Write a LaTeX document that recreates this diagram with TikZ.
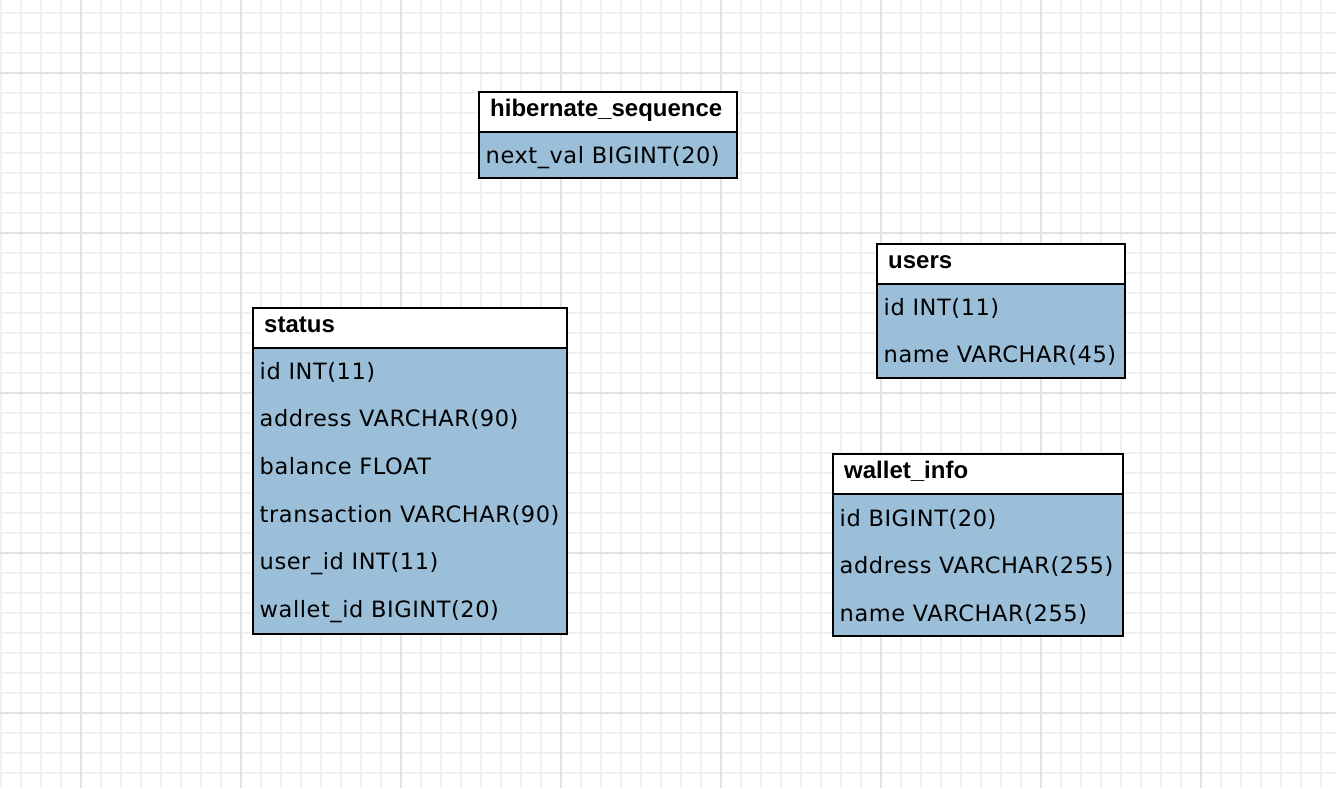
\documentclass[tikz,border=0pt]{standalone}
\usepackage{fontspec}
\newfontfamily\hfont{Liberation Sans}
\newfontfamily\rfont[LetterSpace=2.5]{DejaVu Sans}
\definecolor{gridminor}{RGB}{241,241,241}
\definecolor{gridmajor}{RGB}{226,226,226}
\definecolor{rowfill}{RGB}{155,191,217}
\tikzset{
  minorline/.style={draw=gridminor, line width=1.3pt},
  majorline/.style={draw=gridmajor, line width=1.3pt},
  hdrbox/.style={draw=black, line width=2pt, fill=white, anchor=north west, inner sep=0pt},
  bodybox/.style={draw=black, line width=2pt, fill=rowfill, anchor=north west, inner sep=0pt},
  htext/.style={anchor=base west, inner sep=0pt, font=\hfont\bfseries\fontsize{24}{28}\selectfont},
  rtext/.style={anchor=base west, inner sep=0pt, font=\rfont\fontsize{22.5}{26}\selectfont},
}
\begin{document}
\begin{tikzpicture}[x=1pt,y=-1pt]
\useasboundingbox (0,0) rectangle (1336,788);
\fill[white] (0,0) rectangle (1336,788);
% grid
\foreach \x in {1,21,...,1336} \draw[minorline] (\x,0) -- (\x,788);
\foreach \y in {13,33,...,788} \draw[minorline] (0,\y) -- (1336,\y);
\foreach \x in {81,241,...,1336} \draw[majorline] (\x,0) -- (\x,788);
\foreach \y in {73,233,...,788} \draw[majorline] (0,\y) -- (1336,\y);

% hibernate_sequence
\node[bodybox, minimum width=258pt, minimum height=46pt] (hsB) at (478,131) {};
\node[hdrbox, minimum width=258pt, minimum height=40pt] (hsH) at (478,91) {};
\node[htext] (hsT) at (490,116.5) {hibernate\_sequence};
\node[rtext] (hsR1) at (485.5,163) {next\_val BIGINT(20)};

% users
\node[bodybox, minimum width=248pt, minimum height=94pt] (usB) at (876,282.5) {};
\node[hdrbox, minimum width=248pt, minimum height=40pt] (usH) at (876,242.5) {};
\node[htext] (usT) at (888,268.5) {users};
\node[rtext] (usR1) at (883.5,315) {id INT(11)};
\node[rtext] (usR2) at (883.5,362.5) {name VARCHAR(45)};

% status
\node[bodybox, minimum width=314pt, minimum height=286pt] (stB) at (252,346.5) {};
\node[hdrbox, minimum width=314pt, minimum height=40pt] (stH) at (252,306.5) {};
\node[htext] (stT) at (264,332.5) {status};
\node[rtext] (stR1) at (259.5,379.2) {id INT(11)};
\node[rtext] (stR2) at (259.5,426.9) {address VARCHAR(90)};
\node[rtext] (stR3) at (259.5,474.5) {balance FLOAT};
\node[rtext] (stR4) at (259.5,522) {transaction VARCHAR(90)};
\node[rtext] (stR5) at (259.5,569.7) {user\_id INT(11)};
\node[rtext] (stR6) at (259.5,617.5) {wallet\_id BIGINT(20)};

% wallet_info
\node[bodybox, minimum width=290pt, minimum height=142pt] (wiB) at (832,492.5) {};
\node[hdrbox, minimum width=290pt, minimum height=40pt] (wiH) at (832,452.5) {};
\node[htext] (wiT) at (844,478.5) {wallet\_info};
\node[rtext] (wiR1) at (839.5,526) {id BIGINT(20)};
\node[rtext] (wiR2) at (839.5,573.7) {address VARCHAR(255)};
\node[rtext] (wiR3) at (839.5,621.3) {name VARCHAR(255)};
\end{tikzpicture}
\end{document}
